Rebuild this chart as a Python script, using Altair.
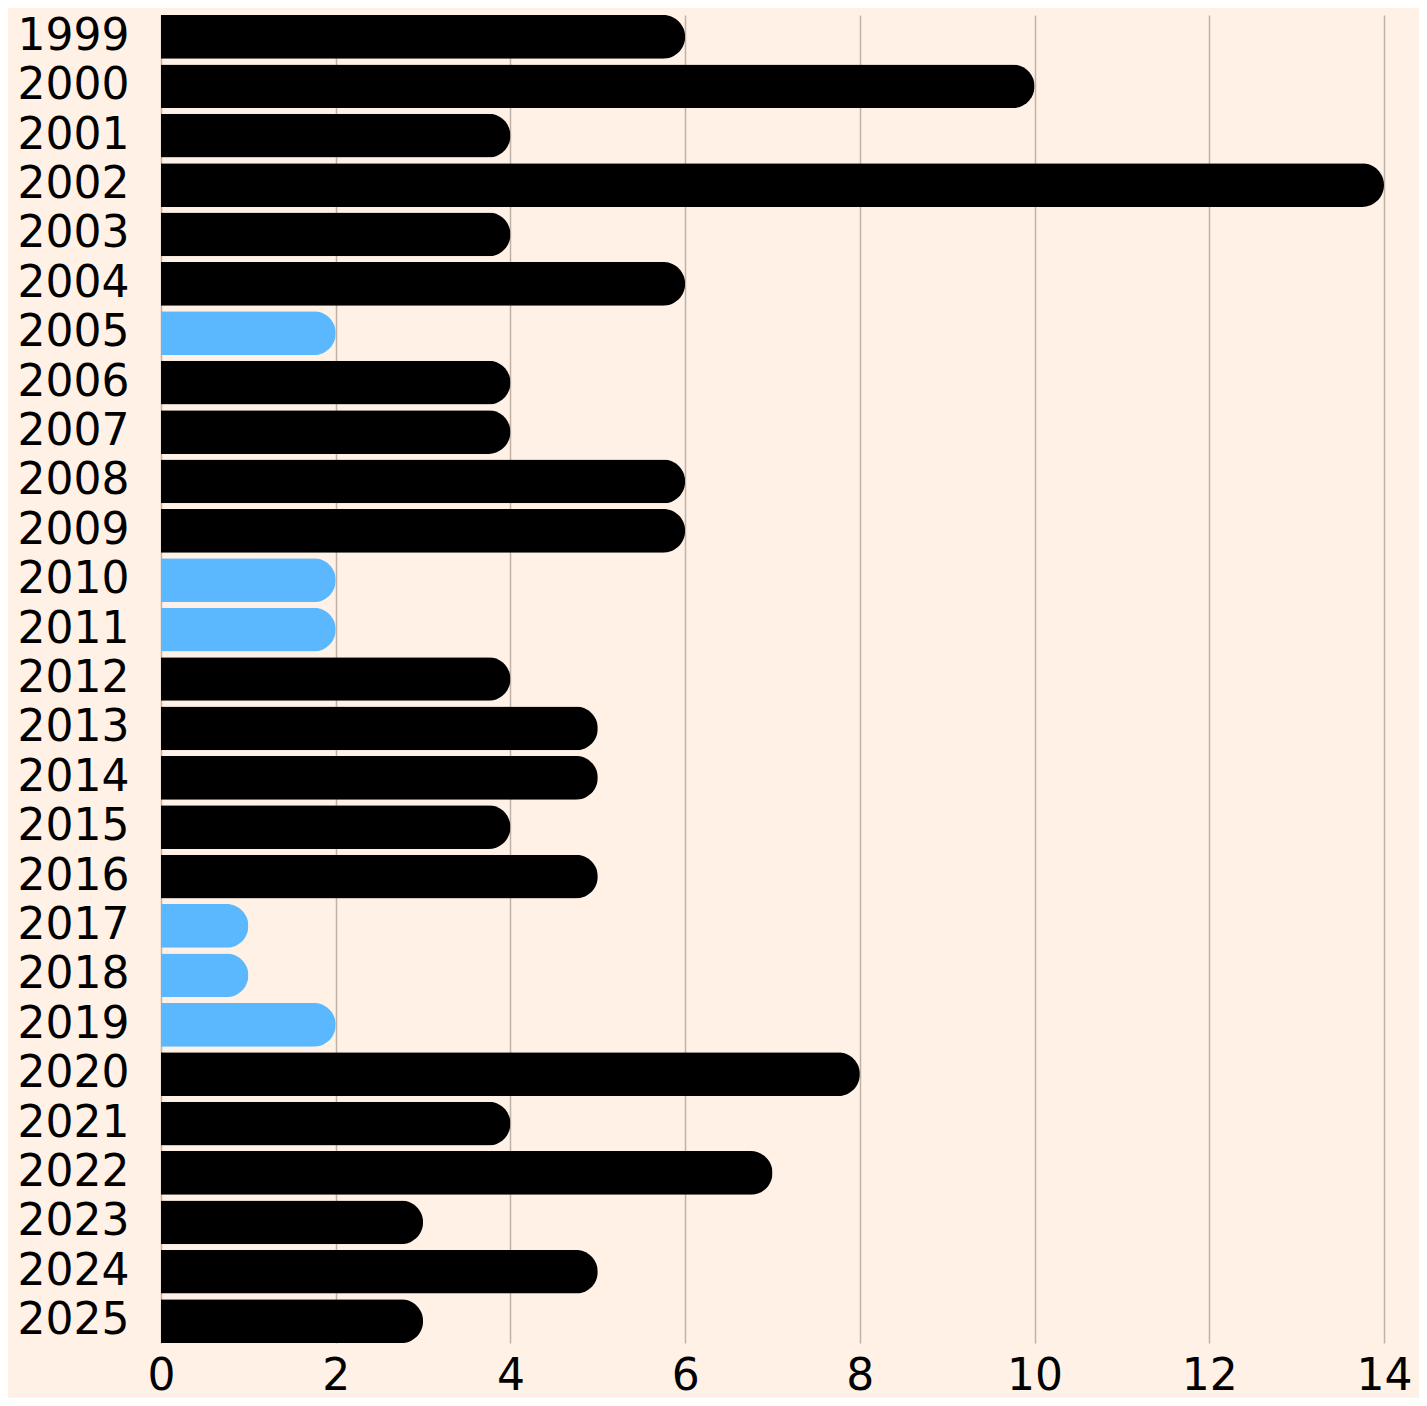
import altair as alt
import pandas as pd

years = [str(y) for y in range(1999, 2026)]
values = [6, 10, 4, 14, 4, 6, 2, 4, 4, 6, 6, 2, 2, 4, 5, 5, 4, 5, 1, 1, 2, 8, 4, 7, 3, 5, 3]
groups = ["high" if v > 2 else "low" for v in values]
x_ticks = [0, 2, 4, 6, 8, 10, 12, 14]

df = pd.DataFrame({"year": years, "value": values, "group": groups})

FONT = "DejaVu Sans"

chart = (
    alt.Chart(df)
    .mark_bar(cornerRadiusEnd=22)
    .encode(
        y=alt.Y(
            "year:N",
            sort=years,
            title=None,
            scale=alt.Scale(paddingInner=0.115, paddingOuter=0),
            axis=alt.Axis(
                ticks=False,
                domain=False,
                labelFontSize=44,
                labelFont=FONT,
                labelColor="#000000",
                labelPadding=32,
                labelAlign="right",
            ),
        ),
        x=alt.X(
            "value:Q",
            title=None,
            scale=alt.Scale(domain=[0, 14], nice=False),
            axis=alt.Axis(
                values=x_ticks,
                ticks=False,
                domain=False,
                grid=True,
                gridColor="#BFB3A8",
                gridWidth=1.5,
                labelFontSize=44,
                labelFont=FONT,
                labelColor="#000000",
                labelPadding=11,
                labelFlush=False,
            ),
        ),
        color=alt.Color(
            "group:N",
            scale=alt.Scale(domain=["high", "low"], range=["#000000", "#5BB8FF"]),
            legend=None,
        ),
    )
    .properties(
        width=1223,
        height=1328,
        background="#FFF1E5",
        autosize=alt.AutoSizeParams(type="none"),
        padding={"left": 153, "top": 7, "right": 35, "bottom": 55},
    )
    .configure_view(stroke=None)
)

chart.save("out.html", embed_options={"renderer": "svg", "actions": False})
